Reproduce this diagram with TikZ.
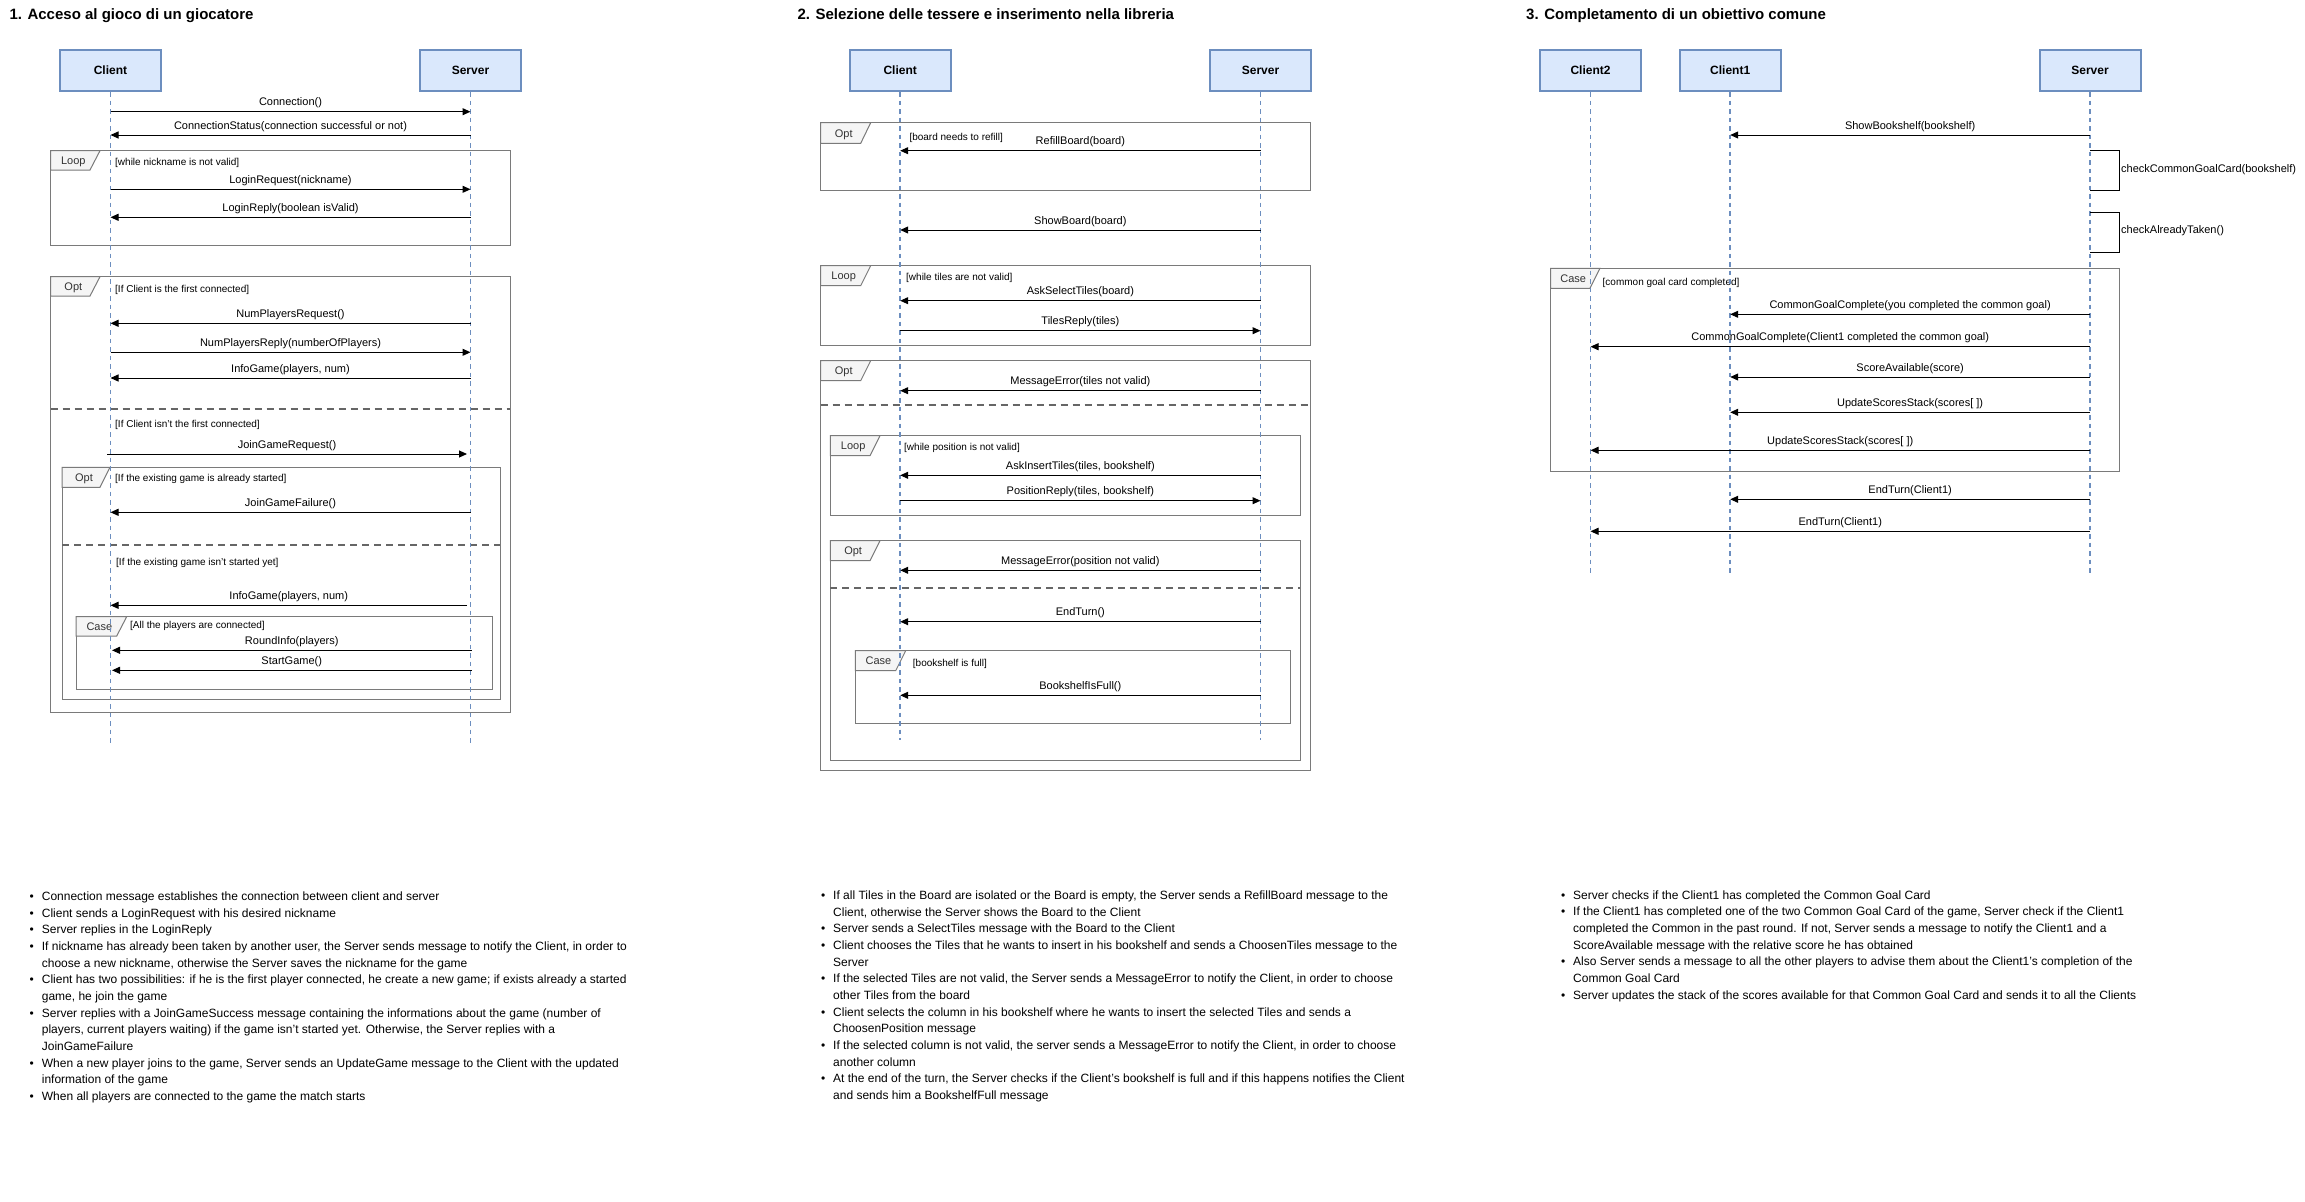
\documentclass[tikz,border=0pt]{standalone}
\usepackage{fontspec}
\setmainfont{Liberation Sans}
\usetikzlibrary{arrows.meta}
\definecolor{actfill}{HTML}{DAE8FC}
\definecolor{actline}{HTML}{6C8EBF}
\definecolor{frmline}{HTML}{7A7A7A}
\definecolor{tabfill}{HTML}{F5F5F5}
\definecolor{tabtext}{HTML}{333333}
\definecolor{divline}{HTML}{666666}
\tikzset{
 actor/.style={draw=actline, fill=actfill, line width=2pt, minimum width=101pt, minimum height=41pt, inner sep=0pt, font=\fontsize{12}{14}\selectfont\bfseries},
 lifeline/.style={draw=actline, line width=1.5pt, dash pattern=on 4.5pt off 4pt},
 msgline/.style={draw=black, line width=1pt, -{Triangle[length=8pt,width=7pt]}},
 msglabel/.style={anchor=base, inner sep=0pt, font=\fontsize{11}{13}\selectfont},
 frameline/.style={draw=frmline, line width=1pt},
 tabshape/.style={draw=frmline, fill=tabfill, line width=1pt},
 tablabel/.style={anchor=base, inner sep=0pt, text=tabtext, font=\fontsize{11}{13}\selectfont},
 guard/.style={anchor=base west, inner sep=0pt, font=\fontsize{10}{12}\selectfont},
 divider/.style={draw=divline, line width=1.5pt, dash pattern=on 7pt off 5pt},
 selfline/.style={draw=black, line width=1pt},
 selflabel/.style={anchor=west, inner sep=0pt, font=\fontsize{11}{13}\selectfont},
 title/.style={anchor=base west, inner sep=0pt, font=\fontsize{15}{18}\selectfont\bfseries},
 btext/.style={anchor=base west, inner sep=0pt, font=\fontsize{12}{14}\selectfont},
}
% message: name, y, xfrom, xto, label
\newcommand{\msg}[5]{%
 \coordinate (#1-s) at (#3,#2);
 \coordinate (#1-e) at (#4,#2);
 \draw[msgline] (#1-s) -- (#1-e);
 \node[msglabel] (#1-l) at ({(#3+#4)/2},{#2-6}) {#5};}
% frame: name, x0, y0, x1, y1, tab width, tab height, label
\newcommand{\frm}[8]{%
 \draw[frameline] (#2,#3) rectangle (#4,#5);
 \draw[tabshape] (#2,#3) -- ({#2+#6},#3) -- ({#2+#6-10},{#3+#7}) -- (#2,{#3+#7}) -- cycle;
 \node[tablabel] (#1) at ({#2+#6/2-2},{#3+#7/2+4}) {#8};}
\newcommand{\grd}[4]{\node[guard] (#1) at (#2,{#3+3.5}) {#4};}
\newcommand{\bul}{\llap{\textbullet\hspace{8pt}}}
\newcommand{\bl}[4]{\node[btext] (#1) at (#2,#3) {#4};}
\begin{document}
\begin{tikzpicture}[x=1pt,y=-1pt]
\fill[white] (0,0) rectangle (2305,1202);
\useasboundingbox (0,0) rectangle (2305,1202);

% ---------------- titles
\node[title] (t1) at (9.3,19) {1. Acceso al gioco di un giocatore};
\node[title] (t2) at (797.3,19) {2. Selezione delle tessere e inserimento nella libreria};
\node[title] (t3) at (1526,19) {3. Completamento di un obiettivo comune};

% ================= SECTION 1
\frm{f1a}{50.7}{150.7}{510}{245.3}{49.3}{19.3}{Loop}
\grd{g1a}{115}{162}{[while nickname is not valid]}
\frm{f1b}{50.7}{276.7}{510}{712.3}{49.3}{19.3}{Opt}
\grd{g1b}{115}{289.3}{[If Client is the first connected]}
\draw[divider] (50.7,409) -- (510,409);
\grd{g1c}{115}{424.3}{[If Client isn't the first connected]}
\frm{f1c}{62}{467.3}{500}{699}{48}{20}{Opt}
\grd{g1d}{115}{478.3}{[If the existing game is already started]}
\draw[divider] (62,545) -- (500,545);
\grd{g1e}{116}{562.3}{[If the existing game isn't started yet]}
\frm{f1d}{76}{616.7}{492.3}{689.3}{50.7}{19.3}{Case}
\grd{g1f}{130}{625}{[All the players are connected]}

\node[actor] (c1) at (110.5,70.5) {Client};
\node[actor] (s1) at (470.5,70.5) {Server};
\coordinate (c1-end) at (110.5,743);
\coordinate (s1-end) at (470.5,743);
\draw[lifeline] (c1.south) -- (c1-end);
\draw[lifeline] (s1.south) -- (s1-end);

\msg{m1}{111.7}{110.5}{470.5}{Connection()}
\msg{m2}{135}{470.5}{110.5}{ConnectionStatus(connection successful or not)}
\msg{m3}{189.3}{110.5}{470.5}{LoginRequest(nickname)}
\msg{m4}{217.3}{470.5}{110.5}{LoginReply(boolean isValid)}
\msg{m5}{323.3}{470.5}{110.5}{NumPlayersRequest()}
\msg{m6}{352.3}{110.5}{470.5}{NumPlayersReply(numberOfPlayers)}
\msg{m7}{378}{470.5}{110.5}{InfoGame(players, num)}
\msg{m8}{454}{107}{467}{JoinGameRequest()}
\msg{m9}{512.3}{470.5}{110.5}{JoinGameFailure()}
\msg{m10}{605.3}{467}{110.5}{InfoGame(players, num)}
\msg{m11}{650.3}{471.5}{112}{RoundInfo(players)}
\msg{m12}{670.3}{471.5}{112}{StartGame()}

% ================= SECTION 2
\frm{f2a}{820.7}{122.7}{1310.3}{190.3}{50}{20.6}{Opt}
\grd{g2a}{909.3}{136.7}{[board needs to refill]}
\frm{f2b}{820.7}{265.7}{1310.3}{345}{50}{20}{Loop}
\grd{g2b}{906}{276.7}{[while tiles are not valid]}
\frm{f2c}{820.7}{360.7}{1310.3}{770}{50}{20}{Opt}
\draw[divider] (820.7,405) -- (1310.3,405);
\frm{f2d}{830.3}{435.7}{1300.3}{515}{49.7}{20}{Loop}
\grd{g2c}{904}{446.7}{[while position is not valid]}
\frm{f2e}{830.3}{540.7}{1300.3}{760}{49.7}{20}{Opt}
\draw[divider] (830.3,588) -- (1300.3,588);
\frm{f2f}{855.3}{650.7}{1290.3}{723.3}{50.4}{20}{Case}
\grd{g2d}{912.7}{662.7}{[bookshelf is full]}

\node[actor] (c2) at (900.2,70.5) {Client};
\node[actor] (s2) at (1260.5,70.5) {Server};
\coordinate (c2-end) at (900.2,740);
\coordinate (s2-end) at (1260.5,740);
\draw[lifeline] (c2.south) -- (c2-end);
\draw[lifeline] (s2.south) -- (s2-end);

\msg{n1}{150.7}{1260.5}{900.2}{RefillBoard(board)}
\msg{n2}{230}{1260.5}{900.2}{ShowBoard(board)}
\msg{n3}{300.7}{1260.5}{900.2}{AskSelectTiles(board)}
\msg{n4}{330.7}{900.2}{1260.5}{TilesReply(tiles)}
\msg{n5}{390.7}{1260.5}{900.2}{MessageError(tiles not valid)}
\msg{n6}{475.3}{1260.5}{900.2}{AskInsertTiles(tiles, bookshelf)}
\msg{n7}{500.7}{900.2}{1260.5}{PositionReply(tiles, bookshelf)}
\msg{n8}{570.3}{1260.5}{900.2}{MessageError(position not valid)}
\msg{n9}{621.7}{1260.5}{900.2}{EndTurn()}
\msg{n10}{695.3}{1260.5}{900.2}{BookshelfIsFull()}

% ================= SECTION 3
\frm{f3a}{1550.5}{268.3}{2119}{471}{49.5}{20}{Case}
\grd{g3a}{1602.5}{281.7}{[common goal card completed]}

\node[actor] (c3b) at (1590.5,70.5) {Client2};
\node[actor] (c3a) at (1730.2,70.5) {Client1};
\node[actor] (s3) at (2090,70.5) {Server};
\coordinate (c3b-end) at (1590.5,575);
\coordinate (c3a-end) at (1730.2,575);
\coordinate (s3-end) at (2090,575);
\draw[lifeline] (c3b.south) -- (c3b-end);
\draw[lifeline] (c3a.south) -- (c3a-end);
\draw[lifeline] (s3.south) -- (s3-end);

\msg{p1}{135}{2090}{1730.2}{ShowBookshelf(bookshelf)}
\coordinate (sc1a) at (2090,150.7);
\coordinate (sc1b) at (2119,150.7);
\coordinate (sc1c) at (2119,190.3);
\coordinate (sc1d) at (2090,190.3);
\draw[selfline] (sc1a) -- (sc1b) -- (sc1c) -- (sc1d);
\node[selflabel] (sc1l) at (2121,170) {checkCommonGoalCard(bookshelf)};
\coordinate (sc2a) at (2090,212.3);
\coordinate (sc2b) at (2119,212.3);
\coordinate (sc2c) at (2119,252.3);
\coordinate (sc2d) at (2090,252.3);
\draw[selfline] (sc2a) -- (sc2b) -- (sc2c) -- (sc2d);
\node[selflabel] (sc2l) at (2121,231) {checkAlreadyTaken()};

\msg{p2}{314.3}{2090}{1730.2}{CommonGoalComplete(you completed the common goal)}
\msg{p3}{346.7}{2090}{1590.5}{CommonGoalComplete(Client1 completed the common goal)}
\msg{p4}{377}{2090}{1730.2}{ScoreAvailable(score)}
\msg{p5}{412.3}{2090}{1730.2}{UpdateScoresStack(scores[ ])}
\msg{p6}{450.3}{2090}{1590.5}{UpdateScoresStack(scores[ ])}
\msg{p7}{499.3}{2090}{1730.2}{EndTurn(Client1)}
\msg{p8}{531.3}{2090}{1590.5}{EndTurn(Client1)}

% ================= NOTES
\bl{b1a}{41.7}{900.5}{\bul Connection message establishes the connection between client and server}
\bl{b1b}{41.7}{917.2}{\bul Client sends a LoginRequest with his desired nickname}
\bl{b1c}{41.7}{933.8}{\bul Server replies in the LoginReply}
\bl{b1d}{41.7}{950.5}{\bul If nickname has already been taken by another user, the Server sends message to notify the Client, in order to}
\bl{b1e}{41.7}{967.2}{choose a new nickname, otherwise the Server saves the nickname for the game}
\bl{b1f}{41.7}{983.8}{\bul Client has two possibilities: if he is the first player connected, he create a new game; if exists already a started}
\bl{b1g}{41.7}{1000.5}{game, he join the game}
\bl{b1h}{41.7}{1017.2}{\bul Server replies with a JoinGameSuccess message containing the informations about the game (number of}
\bl{b1i}{41.7}{1033.8}{players, current players waiting) if the game isn't started yet. Otherwise, the Server replies with a}
\bl{b1j}{41.7}{1050.5}{JoinGameFailure}
\bl{b1k}{41.7}{1067.2}{\bul When a new player joins to the game, Server sends an UpdateGame message to the Client with the updated}
\bl{b1l}{41.7}{1083.8}{information of the game}
\bl{b1m}{41.7}{1100.5}{\bul When all players are connected to the game the match starts}

\bl{b2a}{833}{899.5}{\bul If all Tiles in the Board are isolated or the Board is empty, the Server sends a RefillBoard message to the}
\bl{b2b}{833}{916.2}{Client, otherwise the Server shows the Board to the Client}
\bl{b2c}{833}{932.8}{\bul Server sends a SelectTiles message with the Board to the Client}
\bl{b2d}{833}{949.5}{\bul Client chooses the Tiles that he wants to insert in his bookshelf and sends a ChoosenTiles message to the}
\bl{b2e}{833}{966.2}{Server}
\bl{b2f}{833}{982.8}{\bul If the selected Tiles are not valid, the Server sends a MessageError to notify the Client, in order to choose}
\bl{b2g}{833}{999.5}{other Tiles from the board}
\bl{b2h}{833}{1016.2}{\bul Client selects the column in his bookshelf where he wants to insert the selected Tiles and sends a}
\bl{b2i}{833}{1032.8}{ChoosenPosition message}
\bl{b2j}{833}{1049.5}{\bul If the selected column is not valid, the server sends a MessageError to notify the Client, in order to choose}
\bl{b2k}{833}{1066.2}{another column}
\bl{b2l}{833}{1082.8}{\bul At the end of the turn, the Server checks if the Client's bookshelf is full and if this happens notifies the Client}
\bl{b2m}{833}{1099.5}{and sends him a BookshelfFull message}

\bl{b3a}{1573}{899}{\bul Server checks if the Client1 has completed the Common Goal Card}
\bl{b3b}{1573}{915.7}{\bul If the Client1 has completed one of the two Common Goal Card of the game, Server check if the Client1}
\bl{b3c}{1573}{932.3}{completed the Common in the past round. If not, Server sends a message to notify the Client1 and a}
\bl{b3d}{1573}{949}{ScoreAvailable message with the relative score he has obtained}
\bl{b3e}{1573}{965.7}{\bul Also Server sends a message to all the other players to advise them about the Client1's completion of the}
\bl{b3f}{1573}{982.3}{Common Goal Card}
\bl{b3g}{1573}{999}{\bul Server updates the stack of the scores available for that Common Goal Card and sends it to all the Clients}
\end{tikzpicture}
\end{document}
